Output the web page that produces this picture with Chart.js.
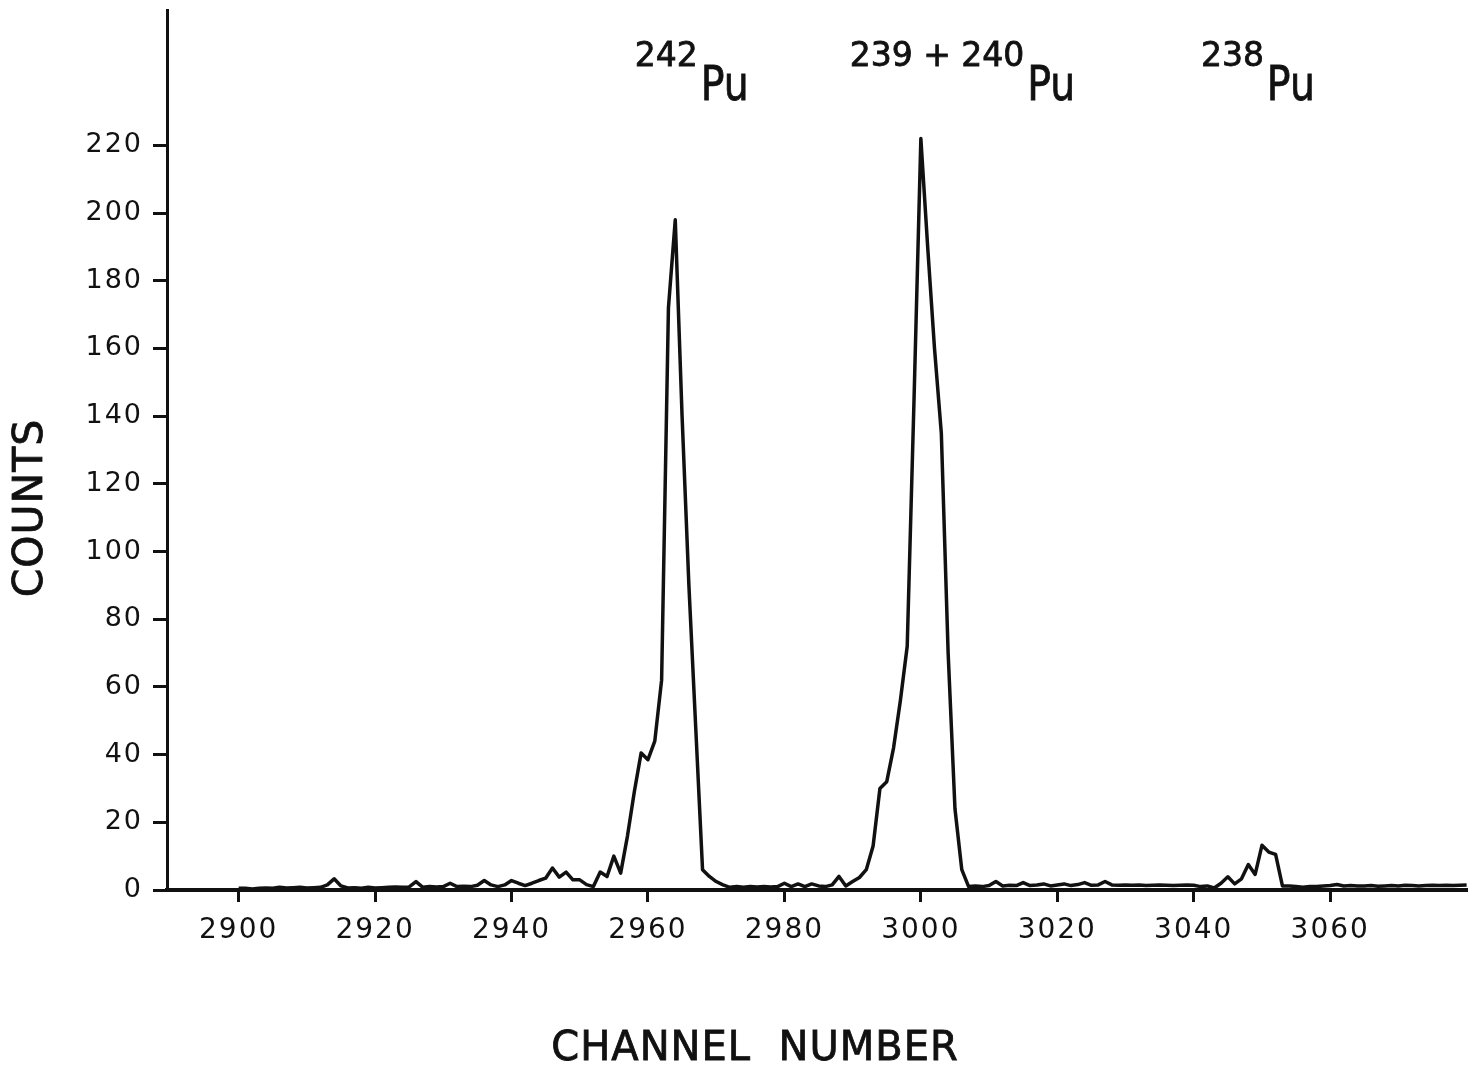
<!DOCTYPE html>
<html>
<head>
<meta charset="utf-8">
<script src="https://cdn.jsdelivr.net/npm/chart.js@4.4.1/dist/chart.umd.min.js"></script>
<style>
  html, body { margin: 0; padding: 0; background: #ffffff; }
  canvas { display: block; }
</style>
</head>
<body>
<canvas id="chart" width="1468" height="1078"></canvas>
<script>
// ---- Data ----
const channels = [
  2900,2901,2902,2903,2904,2905,2906,2907,2908,2909,
  2910,2911,2912,2913,2914,2915,2916,2917,2918,2919,
  2920,2921,2922,2923,2924,2925,2926,2927,2928,2929,
  2930,2931,2932,2933,2934,2935,2936,2937,2938,2939,
  2940,2941,2942,2943,2944,2945,2946,2947,2948,2949,
  2950,2951,2952,2953,2954,2955,2956,2957,2958,2959,
  2960,2961,2962,2963,2964,2965,2966,2967,2968,2969,
  2970,2971,2972,2973,2974,2975,2976,2977,2978,2979,
  2980,2981,2982,2983,2984,2985,2986,2987,2988,2989,
  2990,2991,2992,2993,2994,2995,2996,2997,2998,2999,
  3000,3001,3002,3003,3004,3005,3006,3007,3008,3009,
  3010,3011,3012,3013,3014,3015,3016,3017,3018,3019,
  3020,3021,3022,3023,3024,3025,3026,3027,3028,3029,
  3030,3031,3032,3033,3034,3035,3036,3037,3038,3039,
  3040,3041,3042,3043,3044,3045,3046,3047,3048,3049,
  3050,3051,3052,3053,3054,3055,3056,3057,3058,3059,
  3060,3061,3062,3063,3064,3065,3066,3067,3068,3069,
  3070,3071,3072,3073,3074,3075,3076,3077,3078,3079,3080
];
const counts = [
  0.5,0.5,0.3,0.5,0.6,0.5,0.8,0.6,0.7,0.8,
  0.6,0.7,0.8,1.5,3.3,1.2,0.6,0.7,0.5,0.8,
  0.6,0.7,0.8,0.9,0.8,0.9,2.5,0.8,1.0,0.9,
  1.0,2.0,1.0,1.1,1.0,1.4,2.8,1.5,1.0,1.5,
  2.8,2.0,1.3,2.0,2.8,3.5,6.5,3.8,5.3,3.0,
  3.0,1.6,1.0,5.3,4.0,10,5,16,29,40.5,
  38.5,44,62,172,198,140,90,48,6,4,
  2.5,1.5,0.8,1.0,0.8,1.0,0.9,1.0,0.9,1.0,
  2.0,1.0,1.8,1.0,1.8,1.2,1.0,1.5,4.0,1.2,
  2.5,3.7,6,13,30,32,42,56,72,145,
  222,190,160,135,70,24,6,1.0,1.2,1.0,
  1.3,2.5,1.2,1.4,1.3,2.2,1.3,1.5,1.8,1.2,
  1.5,1.8,1.3,1.6,2.2,1.4,1.5,2.5,1.5,1.4,
  1.5,1.4,1.5,1.3,1.4,1.5,1.4,1.3,1.4,1.5,
  1.4,1.0,1.2,0.6,2.0,3.9,1.8,3.3,7.5,4.6,
  13.2,11.2,10.5,1.2,1.2,1.0,0.8,1.0,1.0,1.2,
  1.3,1.6,1.2,1.3,1.2,1.2,1.3,1.1,1.2,1.3,
  1.2,1.4,1.3,1.2,1.3,1.4,1.3,1.4,1.3,1.4,1.5
];
const xTickValues = [2900,2920,2940,2960,2980,3000,3020,3040,3060];
const yTickValues = [0,20,40,60,80,100,120,140,160,180,200,220];

const peakLabelChannels = [2966.4, 3006.1, 3049.4];
const peakMassNumbers = ['242', '239 + 240', '238'];
const peakElement = 'Pu';
const xTitle = 'CHANNEL  NUMBER';
const yTitle = 'COUNTS';

// axis ranges
const X_MIN = 2889.5, X_MAX = 3080.2;
const Y_MIN = 0, Y_MAX = 260;
// label baselines in count units
const SUP_BASE = 243.5, EL_BASE = 233.4;

const INK = '#111111';
const FONT = '"DejaVu Sans", "Liberation Sans", sans-serif';

const textPlugin = {
  id: 'scanTexts',
  beforeDraw(chart) {
    chart.ctx.letterSpacing = '2px';
  },
  afterDraw(chart) {
    const ctx = chart.ctx;
    const xs = chart.scales.x, ys = chart.scales.y;
    ctx.save();
    ctx.fillStyle = INK;
    ctx.strokeStyle = INK;
    ctx.textBaseline = 'alphabetic';
    ctx.textAlign = 'left';

    // peak labels with superscript mass numbers
    peakLabelChannels.forEach((ch, i) => {
      const sup = peakMassNumbers[i];
      ctx.letterSpacing = '0px';
      ctx.font = '33px ' + FONT;
      const wSup = ctx.measureText(sup).width;
      ctx.font = '48px ' + FONT;
      const sx = 0.82;
      const wEl = ctx.measureText(peakElement).width * sx;
      const gap = 3;
      const cx = xs.getPixelForValue(ch);
      const left = cx - (wSup + gap + wEl) / 2;
      ctx.font = '33px ' + FONT;
      ctx.lineWidth = 0.8;
      ctx.fillText(sup, left, ys.getPixelForValue(SUP_BASE));
      ctx.strokeText(sup, left, ys.getPixelForValue(SUP_BASE));
      ctx.save();
      ctx.translate(left + wSup + gap, ys.getPixelForValue(EL_BASE));
      ctx.scale(sx, 1);
      ctx.font = '48px ' + FONT;
      ctx.fillText(peakElement, 0, 0);
      ctx.strokeText(peakElement, 0, 0);
      ctx.restore();
    });

    // x axis title
    ctx.letterSpacing = '1px';
    ctx.font = '40px ' + FONT;
    ctx.textAlign = 'center';
    ctx.textBaseline = 'middle';
    ctx.lineWidth = 0.8;
    ctx.fillText(xTitle, 755, 1050);
    ctx.strokeText(xTitle, 755, 1050);

    // y axis title (rotated)
    ctx.letterSpacing = '1px';
    ctx.font = '41px ' + FONT;
    ctx.save();
    ctx.translate(31, 508);
    ctx.rotate(-Math.PI / 2);
    ctx.fillText(yTitle, 0, 0);
    ctx.strokeText(yTitle, 0, 0);
    ctx.restore();

    ctx.restore();
  }
};

new Chart(document.getElementById('chart'), {
  type: 'line',
  data: {
    datasets: [{
      data: channels.map((c, i) => ({ x: c, y: counts[i] })),
      borderColor: INK,
      borderWidth: 3.5,
      pointRadius: 0,
      fill: false,
      tension: 0,
      borderJoinStyle: 'round'
    }]
  },
  options: {
    responsive: false,
    animation: false,
    devicePixelRatio: 1,
    events: [],
    layout: { padding: { top: 10, right: 0, bottom: 0, left: 0 } },
    plugins: { legend: { display: false }, tooltip: { enabled: false }, title: { display: false } },
    scales: {
      x: {
        type: 'linear',
        min: X_MIN, max: X_MAX,
        afterBuildTicks: s => { s.ticks = xTickValues.map(v => ({ value: v })); },
        afterFit: s => { s.height = 188; s.paddingLeft = 0; s.paddingRight = 0; },
        grid: { display: true, drawOnChartArea: false, drawTicks: true, tickLength: 12, color: INK, lineWidth: 3 },
        border: { display: true, color: INK, width: 4 },
        ticks: {
          color: INK,
          font: { family: 'DejaVu Sans', size: 28 },
          padding: 12,
          maxRotation: 0,
          autoSkip: false,
          callback: v => String(v)
        }
      },
      y: {
        type: 'linear',
        min: Y_MIN, max: Y_MAX,
        afterBuildTicks: s => { s.ticks = yTickValues.map(v => ({ value: v })); },
        afterFit: s => { s.width = 167; s.paddingTop = 0; s.paddingBottom = 0; },
        grid: { display: true, drawOnChartArea: false, drawTicks: true, tickLength: 14, color: INK, lineWidth: 3 },
        border: { display: true, color: INK, width: 3 },
        ticks: {
          color: INK,
          font: { family: 'DejaVu Sans', size: 27 },
          padding: 10,
          autoSkip: false,
          callback: v => String(v)
        }
      }
    }
  },
  plugins: [textPlugin]
});
</script>
</body>
</html>
